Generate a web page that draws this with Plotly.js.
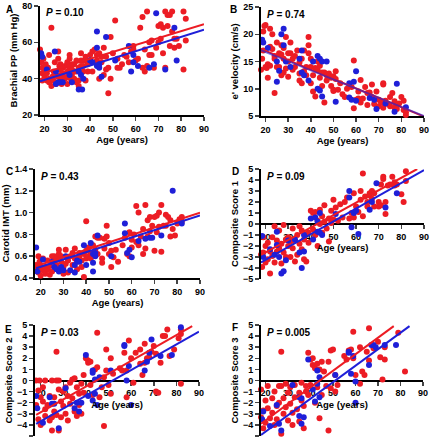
<!DOCTYPE html>
<html><head><meta charset="utf-8">
<script src="https://cdn.plot.ly/plotly-3.0.1.min.js"></script>
<style>html,body{margin:0;padding:0;background:#fff}</style>
</head><body><div id="chart" style="width:430px;height:440px"></div>
<script>
// ---- Data: [age, value] pairs ----
const aRed = [[18,56],[18.5,53],[18.5,49],[19,46],[19,43],[19,39],[19.5,51],[20,44],[20,41],[20.5,48],[21,39],[21,43],[21.5,46],[22,40],[22,38],[22,53],[23,68],[23,36],[23.5,41],[24,44],[24,39],[24.5,49],[25,42],[25,37],
[26,55],[26,51],[26,41],[26.5,47],[27,48],[27,45],[27,42],[27,40],[27.5,37],[28,41],[28,46],[28,43],[29,47],[29,40],[30,37],[30,44],[30,49],[30,41],[31,53],[31,51],[31,46],[31.5,40],[32,45],[32,42],[32,48],[33,48],[33,40],[33,44],[34,44],[34,50],[34,38],[35,36],[35,46],[35,39],[36,50],[36,54],[36,47],[37,44],[37,47],[37.5,50],[38,39],[38,52],
[39,44],[39,48],[40,50],[40,53],[41,44],[41,55],[42,56],[42,49],[43,50],[43,53],[44,54],[44,40],[45,52],[45,49],[46,57],[46,42],[47,45],[47,52],[48,46],[48,32],[49,40],[49,63],[50,54],[51,72],[52,51],[52,46],
[53,46],[54,48],[55,53],[56,52],[57,49],[58,55],[59,58],[59,56],[60,50],[61,51],[62,68],[63,74],[63,46],[64,44],[64,56],[65,77],[65,47],[66,60],[66,53],
[67,53],[67,61],[68,46],[69,57],[70,60],[70,69],[71,70],[71,62],[72,54],[72,68],[73,77],[73,46],[74,69],[74,75],[75,58],[75,75],[76,66],[76,77],[77,57],[77,62],[78,62],[79,58],[81,77],[81,45],[82,73],[82,61]];
const aBlue = [[18.5,54],[19,52],[21,45],[24.5,55],[25,37],[25,44],[26,38],[27,38],[28,38],[31,42],[32,38],[35,34],[36.5,34],[36,42],[37,40],[35,44],[40,50],[41,49],[43,66],[43,57],[43,47],[44,46],[44,48],[45,41],[47,63],[51,50],[57,58],[58,44],[59,49],[59,53],[61,47],[66,46],[68,48],[69,76],[73,45],[77,68],[78,50]];
const aRedLine = [[18,42.6],[90,70]];
const aBlueLine = [[18,38.5],[90,67]];

const bRed = [[18,13.5],[18.5,15.5],[19,17],[19,20.5],[19.5,21.5],[20,21.7],[20,14],[20.5,13.8],[21,12],[21,14.5],[22,14.2],[22,17.7],[22,21],[23,20],[23,17.3],[24,9.2],[24,16],[24,15.5],[25,18.5],[25,14],
[26,16.5],[26,14],[27,12.5],[27,16.3],[27,18],[28,13],[28,15.5],[28,17.5],[29,13.7],[29,19.5],[30,12.2],[30,15],[30,16.5],[31,16.5],[31,18.5],[32,13.5],[32,15.5],[33,16],[33,14],[34,17],[35,11.5],[35,12.8],[35,14.8],[36,15.5],[36,11],[37,13.2],[37,17],[38,12.5],[38,14],[39,19.5],[39,18],[39,16.5],[40,14],[40,15.5],[40,11],
[41,12.5],[41,9.5],[42,13.8],[42,8.6],[43,13.5],[43,15],[44,12],[44,14.2],[45,13],[45,10.5],[46,7.5],[46,13],[47,11.5],[47,12.5],[48,12.8],[49,10.5],[49,12],[50,9.6],[50,9.8],[50,12.3],[51,13.2],[51,11.8],[52,9.8],[53,11],[54,9],
[55,8.5],[56,10],[57,10.5],[58,10.3],[59,15.2],[59,6.4],[60,8],[61,9.5],[61,8.2],[62,11.6],[62,7.5],[63,8.2],[64,10.3],[65,9.2],[65,7],
[66,9.3],[67,8.5],[67,10.8],[68,7.2],[69,9.5],[70,8],[70,6.8],[71,7.5],[72,10.8],[72,11],[72,6.5],[73,7.8],[74,7.2],[75,6.8],[75,8.5],[76,9.2],[77,7.7],[77,6.5],[78,6.3],[79,7.3],[80,8.5],[81,6.1],[81,7.8],[82,5.7],[82,5.2]];
const bBlue = [[18.5,19],[19,18.5],[21,17.5],[25,11.3],[25,15],[26,13.3],[27,20],[28,21],[28,18],[29,15],[31,14],[35,15.5],[36,17],[36,13],[37,12.5],[39,11.5],[41,15],[43,16],[43,10],[44,15.5],[44,9.7],[45,15],[45,8.6],[47,15],[51,7.6],[57,8.4],[57,11],[58,8],[59,11.3],[60,13.2],[60,7.8],[66,8.3],[68,8],[69,6.3],[73,7.3],[77,5.8],[78,10.9],[82,6.6]];
const bRedLine = [[18,17.3],[90,4.9]];
const bBlueLine = [[18,17.1],[90,5.0]];

const cRed = [[18,0.52],[18,0.48],[19,0.45],[19,0.60],[19.5,0.55],[20,0.50],[20,0.42],[21,0.47],[21,0.58],[22,0.44],[22,0.50],[23,0.48],[23,0.56],[24,0.43],[24,0.51],[25,0.46],[25,0.60],
[26,0.55],[26,0.60],[27,0.52],[27,0.58],[28,0.62],[28,0.66],[29,0.55],[29,0.60],[30,0.50],[30,0.44],[31,0.53],[31,0.66],[32,0.56],[32,0.45],[33,0.60],[34,0.63],[34,0.52],[35,0.58],[35,0.67],[36,0.55],[36,0.48],[37,0.63],[37,0.60],[38,0.56],[38,0.50],[39,0.41],[39,0.62],[40,0.92],[40,0.65],[40,0.58],
[41,0.60],[41,0.68],[42,0.63],[42,0.58],[43,0.70],[44,0.66],[44,0.78],[45,0.77],[45,0.62],[46,0.77],[47,0.58],[47,0.54],[48,0.67],[48,0.76],[49,0.88],[49,0.78],[50,0.72],[50,0.62],[51,0.50],[51,0.65],[52,0.59],[53,0.66],[54,0.55],
[56,0.70],[57,0.77],[58,0.62],[59,0.60],[59,0.82],[60,0.75],[60,0.68],[61,0.80],[62,0.73],[62,1.06],[63,1.00],[63,0.70],[64,0.78],[65,0.85],[65,0.62],[66,1.07],[66,0.67],[67,0.78],[67,0.93],[68,0.96],[68,0.83],[69,0.88],[70,0.65],[70,0.96],
[71,0.82],[71,0.97],[72,0.87],[72,1.00],[73,1.07],[73,0.64],[74,0.88],[75,0.88],[75,0.98],[76,0.96],[77,0.93],[77,0.78],[78,0.85],[79,0.79],[80,0.90],[81,0.94],[82,0.96],[82,0.92]];
const cBlue = [[18,0.68],[18.5,0.46],[21,0.57],[25,0.55],[26,0.50],[27,0.48],[28,0.46],[29,0.50],[30,0.47],[31,0.60],[33,0.47],[35,0.52],[35,0.45],[36,0.56],[37,0.55],[39,0.70],[40,0.52],[42,0.72],[43,0.62],[43,0.46],[43,0.54],[44,0.60],[44,0.63],[45,0.79],[51,0.60],[57,0.90],[57,0.81],[58,0.63],[59,0.66],[60,0.59],[63,0.74],[66,0.76],[68,0.77],[69,0.77],[73,0.79],[78,1.20],[82,0.90]];
const cRedLine = [[18,0.51],[90,1.0]];
const cBlueLine = [[18,0.49],[90,0.975]];

const dRed = [[18,-2.8],[18.5,-3.9],[19,-1.2],[19,-2.6],[20,-3.5],[20,-2.0],[21,-1.7],[21,-3.2],[22,-4.5],[22,-2.5],[23,-1.2],[23,-2.9],[24,-0.2],[24,-3.5],[25,-2.5],[25,-1.5],[26,-2.2],[26,-0.6],[27,-3.6],[27,-1.8],[28,-2.6],[28,-0.1],[29,-1.4],[29,-3.0],
[30,-2.0],[30,-1.2],[31,-3.0],[31,-1.6],[32,-0.4],[32,-2.2],[33,-1.5],[33,-3.4],[34,-1.0],[34,-2.8],[35,-1.8],[35,-0.2],[36,-2.3],[36,-0.6],[37,-1.4],[37,-3.2],[38,-0.9],[38,-3.4],[39,-1.7],[39,-0.8],
[40,1.2],[41,1.0],[41,-0.5],[42,1.1],[42,-1.0],[43,0.3],[43,-2.0],[44,0.0],[44,1.3],[45,0.7],[45,-0.8],[46,1.7],[46,0.2],[47,-0.4],[48,0.5],[48,-1.6],[49,1.2],[49,0.1],[50,2.2],[50,0.4],[51,1.5],[52,0.3],[53,1.8],[54,0.6],[55,2.0],
[56,2.4],[57,0.5],[58,1.0],[59,2.8],[59,0.6],[60,1.6],[61,1.1],[62,3.0],[62,2.2],[63,4.6],[63,0.7],[64,2.5],[65,1.6],[65,2.0],[66,2.8],[66,2.6],[67,3.0],[67,2.3],[68,1.6],[68,2.8],[70,2.0],[70,1.6],
[71,3.6],[71,1.7],[72,4.3],[72,4.1],[73,0.9],[73,2.0],[74,3.5],[75,3.6],[76,4.3],[77,3.8],[77,3.5],[78,3.6],[80,2.7],[81,2.0],[82,4.8],[82,3.9]];
const dBlue = [[18.5,-1.1],[19,-3.0],[22,-2.3],[24,-2.8],[25,-0.7],[25,-1.9],[26,-3.0],[27,-4.5],[28,-4.3],[29,-3.3],[30,-1.5],[33,-1.4],[35,-2.6],[36,-4.0],[37,-2.5],[37,-1.0],[40,0.5],[41,-1.4],[42,0.6],[43,-0.7],[43,0.2],[44,-0.8],[44,1.0],[45,-1.0],[51,0.9],[57,3.0],[57,2.4],[58,-0.3],[59,1.0],[60,1.2],[61,-0.9],[66,1.3],[67,2.0],[69,3.7],[73,1.5],[78,2.8]];
const dRedLine = [[18,-2.8],[87,5.0]];
const dBlueLine = [[18,-3.5],[90,4.9]];

const eRed = [[18,0],[19.5,0],[22,0],[25,0],[27,0],[28,0],
[18,-2.2],[19,-0.9],[19,-3.5],[20,-1.5],[20,-4.0],[21,-1.9],[21,-0.6],[22,-3.2],[22,-2.6],[23,-2.2],[24,-1.4],[24,-3.6],[25,-4.5],[25,-3.3],[26,-1.5],[26,-2.8],[27,2.6],[27,-3.1],[28,-4.5],[28,-0.8],[29,-3.3],[29,-1.9],[30,-2.3],[30,-1.0],[31,-3.0],[31,-0.6],[32,-1.4],[32,-3.6],[33,-2.1],[33,-0.2],[34,-1.6],[34,0.1],[35,-2.8],[35,0.2],[36,-3.2],[36,-0.6],[37,-2.2],[37,-1.2],[38,-0.3],[38,-3.0],[39,-1.1],[39,0.5],
[40,2.0],[41,1.8],[41,1.6],[42,1.7],[42,-0.4],[43,-1.3],[44,1.0],[45,4.3],[45,1.2],[46,-1.5],[47,-0.6],[48,0.3],[48,-4.1],[49,2.8],[49,0.9],[50,-0.4],[51,2.0],[51,-1.2],[52,0.6],[55,1.1],[56,0.9],
[57,2.5],[58,0.9],[59,3.6],[58,-1.5],[60,2.0],[61,-0.2],[62,2.5],[64,1.5],[64,2.8],[65,0.5],[66,3.3],[66,1.6],[67,2.0],[68,2.1],[69,2.6],[70,3.1],[71,2.4],[71,-1.0],[72,-1.1],[73,1.6],
[74,4.0],[75,4.0],[76,4.6],[77,2.2],[79,2.8],[81,3.8],[82,4.6],[82,-0.3],[82,4.2]];
const eBlue = [[18,-1.4],[18.5,-2.5],[21,-3.8],[24,-1.5],[25,-2.1],[26,-2.1],[28,-4.3],[31,-0.7],[35,-2.5],[36,-2.0],[37,-2.8],[38,-2.0],[40,2.3],[41,-1.4],[43,0.7],[43,0.9],[43,-1.8],[44,-1.2],[44,0.1],[45,-2.2],[46,0.3],[51,0.9],[57,3.1],[57,3.2],[58,0.0],[59,1.3],[60,-2.2],[66,0.9],[67,1.7],[68,2.5],[69,3.7],[73,2.2],[78,2.3],[82,4.8]];
const eRedLine = [[18,-3.1],[87,4.9]];
const eBlueLine = [[18,-3.9],[90,4.4]];

const fRed = [[18,-0.8],[18,-3.3],[19,-4.3],[19,-2.7],[20,-1.8],[20,-3.8],[21,-0.5],[21,-2.5],[22,-3.4],[23,-1.6],[23,-2.9],[24,-4.0],[24,-1.0],[25,-2.3],[25,-3.5],[26,-0.5],[26,-2.0],[27,2.6],[27,-4.8],[27,-0.5],[28,-3.0],[28,-1.6],[29,-2.4],[29,-0.3],[30,-3.6],[30,-1.1],[31,-2.1],[31,-0.6],[32,-4.0],[32,-2.9],[33,-1.5],[33,-0.4],[34,-2.6],[35,-1.1],[35,-3.7],[36,-0.2],[36,-1.8],[37,-2.3],[37,-4.3],[38,-1.0],[38,-0.5],
[39,2.5],[39,-1.3],[40,1.9],[40,-0.4],[41,2.0],[41,1.4],[42,1.1],[42,-2.0],[43,1.5],[43,-0.6],[44,1.0],[44,-3.4],[45,1.7],[45,-1.3],[46,0.8],[47,-0.5],[48,1.7],[48,-4.5],[49,2.7],[49,-0.7],[50,2.8],[51,0.5],[51,-1.0],[52,-0.4],
[55,2.2],[56,1.9],[57,2.7],[58,2.8],[59,4.4],[59,2.0],[60,0.5],[62,-0.3],[62,3.0],[63,0.8],[64,0.5],[65,2.6],[66,4.7],[66,1.8],[68,2.9],[70,3.5],[71,2.1],[72,0.1],[73,1.9],[73,3.0],[79,4.3],[82,0.8]];
const fBlue = [[18.5,-3.5],[19,-2.8],[22,-4.1],[25,-2.2],[26,-3.9],[27,-4.5],[32,-0.4],[35,-1.5],[35,-3.2],[36,-1.6],[37,-3.3],[36,-3.9],[39,1.9],[41,-0.8],[42,-1.9],[43,0.9],[43,-0.3],[44,-1.5],[44,0.3],[51,0.5],[57,2.5],[57,2.6],[58,0.6],[59,2.2],[60,-0.1],[60,-2.0],[66,1.4],[67,3.2],[68,3.2],[69,3.0],[73,3.2],[78,3.2]];
const fRedLine = [[18,-3.9],[77,4.9]];
const fBlueLine = [[18,-4.9],[84,4.9]];

const yTitles = ['Brachial PP (mm Hg)', "e' velocity (cm/s)", 'Carotid IMT (mm)', 'Composite Score 1', 'Composite Score 2', 'Composite Score 3'];
const xTitle = 'Age (years)';
const panelLetters = ['A','B','C','D','E','F'];
const pValues = ['0.10','0.74','0.43','0.09','0.03','0.005'];
const yRanges = [[20,80],[5,25],[0.4,1.4],[-5,5],[-5,5],[-5,5]];
const yDticks = [20,5,0.2,1,1,1];

// ---- Layout geometry (pixels) ----
const W = 430, H = 440;
const boxes = [ // [left, right, top, bottom]
  [40,204,6,115],[261,424,7,116],
  [35,200,169,278],[261,424,169,279],
  [35,199,325,436],[261,423,325,436]];
const xRanges = [[18,90],[18,90],[17.5,90],[18,90],[17.5,90],[18,90]];
const letterPos = [[4,9],[228,10],[4,172],[230,172],[3,329],[230,327]];

const RED = '#ec1c24', BLUE = '#1f1fd8';
const FONT = 'Liberation Sans, Arial, sans-serif';
const panels = [
  [aRed,aBlue,aRedLine,aBlueLine],[bRed,bBlue,bRedLine,bBlueLine],[cRed,cBlue,cRedLine,cBlueLine],
  [dRed,dBlue,dRedLine,dBlueLine],[eRed,eBlue,eRedLine,eBlueLine],[fRed,fBlue,fRedLine,fBlueLine]];

const traces = [];
const layout = {width:W,height:H,margin:{l:0,r:0,t:0,b:0},showlegend:false,
  paper_bgcolor:'#fff',plot_bgcolor:'rgba(0,0,0,0)',font:{family:FONT,color:'#000'},annotations:[]};

panels.forEach((p,i)=>{
  const n = i+1, xa = 'x'+(n>1?n:''), ya = 'y'+(n>1?n:'');
  const [red,blue,rl,bl] = p;
  traces.push({type:'scatter',mode:'markers',x:red.map(d=>d[0]),y:red.map(d=>d[1]),xaxis:xa,yaxis:ya,
    marker:{color:RED,size:6},cliponaxis:false,hoverinfo:'skip'});
  traces.push({type:'scatter',mode:'markers',x:blue.map(d=>d[0]),y:blue.map(d=>d[1]),xaxis:xa,yaxis:ya,
    marker:{color:BLUE,size:6},cliponaxis:false,hoverinfo:'skip'});
  traces.push({type:'scatter',mode:'lines',x:rl.map(d=>d[0]),y:rl.map(d=>d[1]),xaxis:xa,yaxis:ya,
    line:{color:RED,width:2},cliponaxis:false,hoverinfo:'skip'});
  traces.push({type:'scatter',mode:'lines',x:bl.map(d=>d[0]),y:bl.map(d=>d[1]),xaxis:xa,yaxis:ya,
    line:{color:BLUE,width:2},opacity:(i===1?0.6:1),cliponaxis:false,hoverinfo:'skip'});

  const [l,r,t,b] = boxes[i];
  const zeroAxis = i>=3;
  const xaxis = {domain:[l/W,r/W],range:xRanges[i],tick0:20,dtick:10,ticks:'outside',ticklen:4,tickwidth:1.5,
    showline:true,linewidth:2,linecolor:'#000',showgrid:false,zeroline:false,
    tickfont:{size:9,weight:700},layer:'below traces',
    title:{text:xTitle,font:{size:9.5,weight:700},standoff:3},anchor:ya};
  if (zeroAxis){
    const y0 = (t+b)/2; // y = 0 at middle of symmetric range
    xaxis.anchor = 'free'; xaxis.position = 1 - y0/H;
  }
  const yaxis = {domain:[1-b/H,1-t/H],range:yRanges[i],dtick:yDticks[i],tick0:yRanges[i][0],ticks:'outside',ticklen:4,tickwidth:1.5,
    showline:true,linewidth:2,linecolor:'#000',showgrid:false,zeroline:false,
    tickfont:{size:9,weight:700},tickformat:(i===2?'.1f':''),
    title:{text:yTitles[i],font:{size:9.5,weight:700},standoff:3},anchor:xa};
  layout['xaxis'+(n>1?n:'')] = xaxis;
  layout['yaxis'+(n>1?n:'')] = yaxis;

  layout.annotations.push({xref:'paper',yref:'paper',x:letterPos[i][0]/W,y:1-letterPos[i][1]/H,
    text:'<b>'+panelLetters[i]+'</b>',showarrow:false,xanchor:'left',yanchor:'middle',font:{size:10}});
  layout.annotations.push({xref:'paper',yref:'paper',x:(l+4)/W,y:1-(t+7)/H,
    text:'<b><i>P</i> = '+pValues[i]+'</b>',showarrow:false,xanchor:'left',yanchor:'middle',font:{size:10}});
});

Plotly.newPlot('chart',traces,layout,{staticPlot:true,displayModeBar:false});
</script></body></html>
